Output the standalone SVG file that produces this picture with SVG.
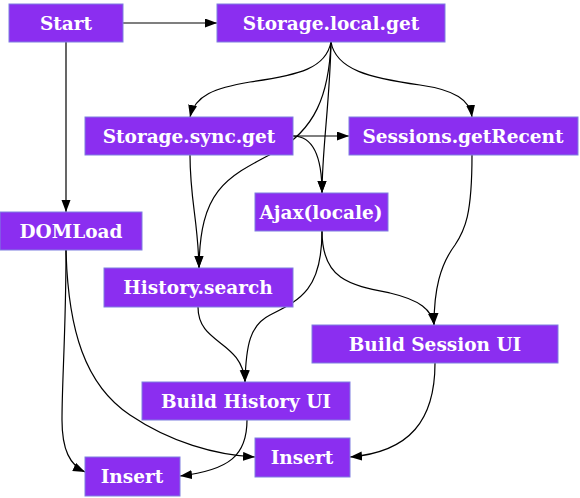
<svg xmlns="http://www.w3.org/2000/svg" width="580" height="498" viewBox="0 0 580 498">
<defs>
<marker id="arr" markerWidth="12" markerHeight="10" refX="12" refY="4.5" orient="auto" markerUnits="userSpaceOnUse">
<path d="M0,0 L12,4.5 L0,9 z" fill="#000"/>
</marker>
<style>
.n rect{fill:#8b2ef0;stroke:#7f7fe0;stroke-width:1}
.n text{font-family:"DejaVu Serif",serif;font-weight:bold;font-size:18.5px;fill:#fff;text-anchor:middle}
.e path{fill:none;stroke:#000;stroke-width:1.2;marker-end:url(#arr)}
</style>
</defs>
<rect width="580" height="498" fill="#fff"/>
<g id="edges" class="e">
<path d="M123,23 L217,23"/>
<path d="M66,42 L66,212"/>
<path d="M331,42 C326,68 300,75 250,82 C215,88 195,95 190,117"/>
<path d="M331,42 C336,70 370,78 420,85 C455,90 470,100 472,117"/>
<path d="M331,42 C330,100 322,150 322,193"/>
<path d="M331,42 C329,95 315,130 275,152 C225,178 200,190 199,268"/>
<path d="M293,136 L349,136"/>
<path d="M293,136 C310,136 322,150 322,193"/>
<path d="M190,155 C190,200 198,220 199,268"/>
<path d="M66,250 C66,330 62,380 62,420 C62,450 70,465 85,472"/>
<path d="M66,250 C68,330 85,385 130,415 C170,442 215,455 255,457"/>
<path d="M198,307 C198,345 242,340 245,382"/>
<path d="M322,231 C322,290 300,300 270,315 C250,325 246,345 245,382"/>
<path d="M322,231 C322,280 350,285 390,293 C420,300 432,310 434,325"/>
<path d="M472,155 C472,215 465,230 455,245 C440,265 434,290 434,325"/>
<path d="M247,420 C247,455 230,470 180,476"/>
<path d="M435,363 C435,420 410,452 350,457"/>
</g>
<g id="start" class="n"><rect x="9" y="4" width="114" height="38"/><text x="66" y="30">Start</text></g>
<g id="storage-local-get" class="n"><rect x="217" y="4" width="228" height="38"/><text x="331" y="30">Storage.local.get</text></g>
<g id="storage-sync-get" class="n"><rect x="85" y="117" width="208" height="38"/><text x="189" y="143">Storage.sync.get</text></g>
<g id="sessions-getrecent" class="n"><rect x="349" y="117" width="229" height="38"/><text x="463" y="143">Sessions.getRecent</text></g>
<g id="domload" class="n"><rect x="0" y="212" width="142" height="38"/><text x="71" y="238">DOMLoad</text></g>
<g id="ajax-locale" class="n"><rect x="255" y="193" width="133" height="38"/><text x="321" y="219">Ajax(locale)</text></g>
<g id="history-search" class="n"><rect x="104" y="268" width="189" height="39"/><text x="198" y="294">History.search</text></g>
<g id="build-session-ui" class="n"><rect x="312" y="325" width="246" height="38"/><text x="435" y="351">Build Session UI</text></g>
<g id="build-history-ui" class="n"><rect x="142" y="382" width="208" height="38"/><text x="246" y="408">Build History UI</text></g>
<g id="insert-1" class="n"><rect x="85" y="457" width="95" height="39"/><text x="132" y="483">Insert</text></g>
<g id="insert-2" class="n"><rect x="255" y="438" width="95" height="39"/><text x="302" y="464">Insert</text></g>
</svg>
